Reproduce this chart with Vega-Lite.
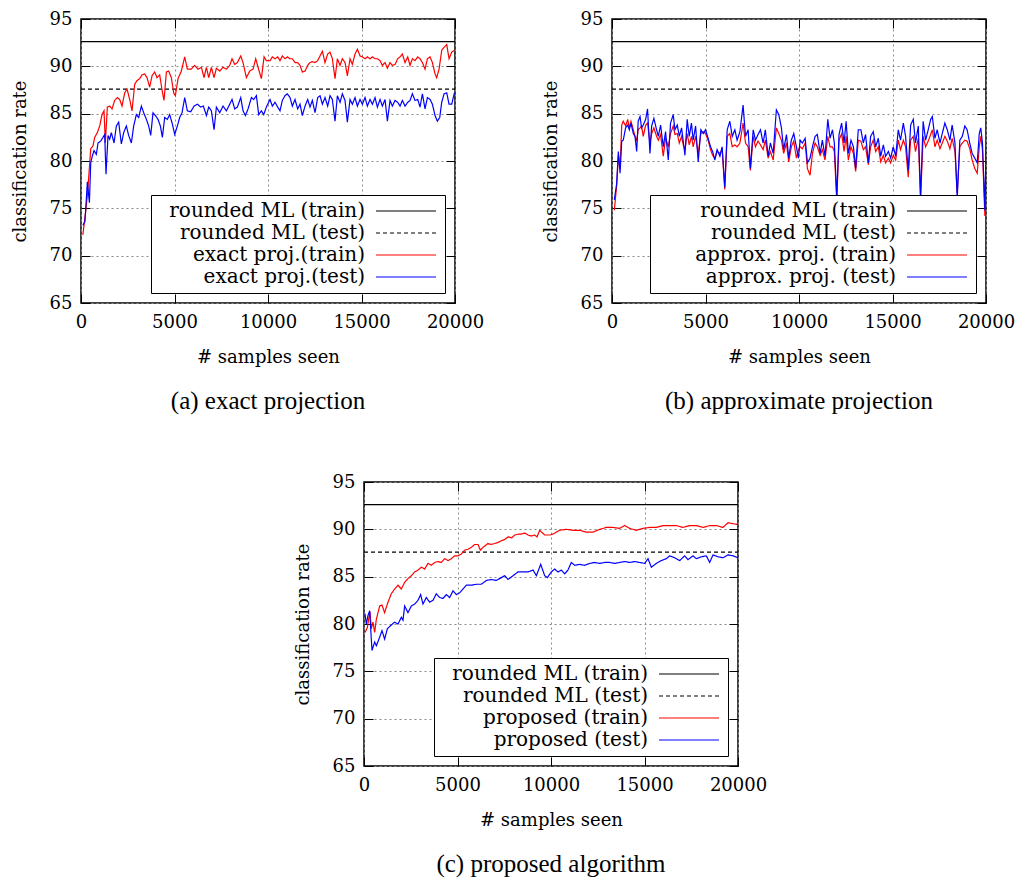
{
  "$schema": "https://vega.github.io/schema/vega-lite/v6.json",
  "background": "white",
  "padding": {"left": 10, "top": 9, "right": 5, "bottom": 5},
  "config": {
    "font": "DejaVu Serif",
    "view": {"stroke": "black", "strokeWidth": 1.5},
    "axis": {"domain": false, "tickColor": "black", "tickSize": -9, "tickWidth": 1, "labelFont": "DejaVu Serif", "labelFontSize": 18, "labelColor": "black", "titleFont": "DejaVu Serif", "titleFontSize": 18, "titleFontWeight": "normal", "titleColor": "black", "gridColor": "#8a8a8a", "gridDash": [2, 3], "gridWidth": 1, "labelFlush": false},
    "legend": {"orient": "bottom-right", "offset": 10, "title": null, "symbolType": "M -6 0 L 6 0", "symbolSize": 100, "symbolStrokeWidth": 1.2, "labelFont": "DejaVu Serif", "labelFontSize": 20, "labelColor": "black", "labelAlign": "right", "labelLimit": 400, "rowPadding": 2, "padding": 6, "strokeColor": "black", "fillColor": "white", "cornerRadius": 0},
    "title": {"font": "Liberation Serif", "fontSize": 25, "fontWeight": "normal", "color": "black"},
    "line": {"strokeWidth": 1.2}
  },
  "datasets": {
    "ml_tr": [{"x": 0, "y": 92.6}, {"x": 20000, "y": 92.6}],
    "ml_te": [{"x": 0, "y": 87.6}, {"x": 20000, "y": 87.6}],
    "a_tr": [{"x":100,"y":72.2},{"x":270,"y":75},{"x":360,"y":76.8},{"x":520,"y":81.3},{"x":642,"y":81.6},{"x":732,"y":82.5},{"x":874,"y":83},{"x":999,"y":83.7},{"x":1124,"y":84.9},{"x":1231,"y":85.3},{"x":1302,"y":81.9},{"x":1409,"y":85.7},{"x":1534,"y":85.8},{"x":1659,"y":85.5},{"x":1801,"y":86.4},{"x":1944,"y":86.7},{"x":2069,"y":86.5},{"x":2194,"y":85.8},{"x":2336,"y":87.2},{"x":2461,"y":87.6},{"x":2604,"y":86.5},{"x":2729,"y":85.3},{"x":2871,"y":88.1},{"x":2996,"y":88.5},{"x":3139,"y":88.7},{"x":3263,"y":89.1},{"x":3406,"y":89.2},{"x":3531,"y":88.8},{"x":3674,"y":87.8},{"x":3798,"y":89},{"x":3941,"y":89.4},{"x":4066,"y":88.8},{"x":4208,"y":89.1},{"x":4333,"y":87.5},{"x":4440,"y":86.4},{"x":4565,"y":89.4},{"x":4690,"y":89.5},{"x":4832,"y":88.8},{"x":4957,"y":87.2},{"x":5047,"y":86.9},{"x":5189,"y":88.7},{"x":5367,"y":89.5},{"x":5546,"y":91},{"x":5688,"y":89.7},{"x":5902,"y":89.7},{"x":6080,"y":90.1},{"x":6259,"y":89.7},{"x":6437,"y":89.9},{"x":6580,"y":88.8},{"x":6705,"y":89.9},{"x":6830,"y":88.8},{"x":6972,"y":89.9},{"x":7115,"y":88.8},{"x":7240,"y":89.8},{"x":7418,"y":89.5},{"x":7596,"y":89.9},{"x":7775,"y":89.7},{"x":7953,"y":90.1},{"x":8078,"y":90.8},{"x":8220,"y":90.2},{"x":8363,"y":90.4},{"x":8541,"y":91.1},{"x":8666,"y":90.4},{"x":8844,"y":88.8},{"x":9022,"y":89.5},{"x":9201,"y":89.7},{"x":9343,"y":90.8},{"x":9468,"y":89.9},{"x":9646,"y":88.7},{"x":9789,"y":91},{"x":9914,"y":90.6},{"x":10107,"y":90.6},{"x":10232,"y":91},{"x":10375,"y":90.8},{"x":10518,"y":91},{"x":10642,"y":90.6},{"x":10767,"y":91.1},{"x":10910,"y":90.8},{"x":11035,"y":91},{"x":11177,"y":90.8},{"x":11302,"y":90.8},{"x":11445,"y":90.4},{"x":11587,"y":90.4},{"x":11712,"y":90.1},{"x":11837,"y":89.4},{"x":11980,"y":89.5},{"x":12122,"y":90.1},{"x":12247,"y":90.4},{"x":12372,"y":90.5},{"x":12515,"y":90.4},{"x":12657,"y":90.6},{"x":12782,"y":91.1},{"x":12907,"y":91.6},{"x":13049,"y":90.4},{"x":13192,"y":91.3},{"x":13317,"y":91.5},{"x":13442,"y":90.8},{"x":13584,"y":88.7},{"x":13709,"y":90.8},{"x":13852,"y":90.1},{"x":13976,"y":90.8},{"x":14119,"y":90.4},{"x":14244,"y":89},{"x":14387,"y":90.8},{"x":14511,"y":90.2},{"x":14654,"y":91.3},{"x":14779,"y":91.8},{"x":14922,"y":91.1},{"x":15046,"y":91},{"x":15189,"y":90.8},{"x":15314,"y":91},{"x":15456,"y":90.8},{"x":15581,"y":91},{"x":15724,"y":90.8},{"x":15849,"y":90.8},{"x":15992,"y":90.6},{"x":16116,"y":90.1},{"x":16259,"y":90.4},{"x":16384,"y":89.8},{"x":16527,"y":90.4},{"x":16651,"y":90.1},{"x":16794,"y":90.2},{"x":16936,"y":90.8},{"x":17061,"y":91},{"x":17186,"y":91.3},{"x":17329,"y":90.4},{"x":17471,"y":91},{"x":17596,"y":90.1},{"x":17721,"y":90.8},{"x":17863,"y":90.6},{"x":18006,"y":91},{"x":18131,"y":90.8},{"x":18256,"y":90.4},{"x":18398,"y":89.7},{"x":18523,"y":90.8},{"x":18666,"y":91},{"x":18791,"y":90.4},{"x":18933,"y":89.2},{"x":19022,"y":88.8},{"x":19147,"y":89.7},{"x":19290,"y":91.7},{"x":19415,"y":92},{"x":19558,"y":92.3},{"x":19682,"y":90.8},{"x":19825,"y":91.5},{"x":19968,"y":91.7}],
    "a_te": [{"x":100,"y":73.2},{"x":210,"y":73.6},{"x":340,"y":77.8},{"x":450,"y":75.6},{"x":520,"y":79.8},{"x":589,"y":80.4},{"x":696,"y":81.1},{"x":821,"y":80.7},{"x":910,"y":81.9},{"x":1052,"y":82.1},{"x":1177,"y":82.5},{"x":1266,"y":82.8},{"x":1338,"y":78.6},{"x":1445,"y":82.7},{"x":1534,"y":82.3},{"x":1623,"y":83},{"x":1766,"y":81.9},{"x":1890,"y":83.7},{"x":2015,"y":84.1},{"x":2158,"y":81.8},{"x":2283,"y":83},{"x":2425,"y":83.7},{"x":2550,"y":82.7},{"x":2693,"y":81.9},{"x":2818,"y":83.7},{"x":2960,"y":84.9},{"x":3085,"y":84.6},{"x":3228,"y":85.8},{"x":3353,"y":85.1},{"x":3496,"y":84.4},{"x":3620,"y":83.7},{"x":3727,"y":82.7},{"x":3852,"y":85.1},{"x":3977,"y":84.8},{"x":4119,"y":84.4},{"x":4244,"y":83.7},{"x":4351,"y":82.5},{"x":4476,"y":84.6},{"x":4618,"y":84.4},{"x":4743,"y":84.9},{"x":4886,"y":83.9},{"x":5011,"y":82.8},{"x":5153,"y":83.7},{"x":5278,"y":84.6},{"x":5403,"y":85.1},{"x":5546,"y":86.7},{"x":5688,"y":85.3},{"x":5866,"y":85.2},{"x":6045,"y":85.8},{"x":6223,"y":86},{"x":6401,"y":85.7},{"x":6544,"y":85.8},{"x":6705,"y":84.8},{"x":6830,"y":85.7},{"x":6972,"y":85.3},{"x":7115,"y":83.3},{"x":7240,"y":85.7},{"x":7418,"y":85.1},{"x":7596,"y":85.8},{"x":7775,"y":85.3},{"x":7953,"y":86},{"x":8078,"y":86.5},{"x":8220,"y":85.5},{"x":8363,"y":85.7},{"x":8541,"y":86.7},{"x":8666,"y":85.3},{"x":8790,"y":84.8},{"x":8933,"y":85.5},{"x":9112,"y":86.7},{"x":9236,"y":86.5},{"x":9379,"y":86.9},{"x":9504,"y":84.9},{"x":9646,"y":85.3},{"x":9771,"y":84.9},{"x":9914,"y":85.7},{"x":10107,"y":86.5},{"x":10232,"y":85.8},{"x":10375,"y":86.2},{"x":10518,"y":85.7},{"x":10642,"y":85.3},{"x":10767,"y":86.4},{"x":10910,"y":86.9},{"x":11035,"y":87.1},{"x":11177,"y":86.7},{"x":11302,"y":85.8},{"x":11445,"y":86.5},{"x":11587,"y":85.5},{"x":11712,"y":86},{"x":11837,"y":84.8},{"x":11980,"y":85.8},{"x":12122,"y":86.5},{"x":12247,"y":85.7},{"x":12372,"y":86.4},{"x":12515,"y":85.1},{"x":12657,"y":86.7},{"x":12782,"y":86.9},{"x":12907,"y":86},{"x":13049,"y":86.7},{"x":13192,"y":85.8},{"x":13317,"y":86.9},{"x":13442,"y":86.5},{"x":13584,"y":84.2},{"x":13709,"y":86.9},{"x":13852,"y":86.2},{"x":13976,"y":87.1},{"x":14119,"y":86.4},{"x":14244,"y":84.1},{"x":14387,"y":86.5},{"x":14511,"y":86},{"x":14654,"y":86.7},{"x":14779,"y":85.8},{"x":14922,"y":86.5},{"x":15046,"y":86},{"x":15189,"y":86.7},{"x":15314,"y":85.8},{"x":15456,"y":86.5},{"x":15581,"y":86},{"x":15724,"y":86.7},{"x":15849,"y":85.7},{"x":15992,"y":86.5},{"x":16116,"y":85.8},{"x":16259,"y":86.5},{"x":16384,"y":84.2},{"x":16527,"y":86.4},{"x":16651,"y":85.8},{"x":16794,"y":86.4},{"x":16936,"y":86.2},{"x":17061,"y":85.8},{"x":17186,"y":86.4},{"x":17329,"y":85.8},{"x":17471,"y":86.2},{"x":17596,"y":86.4},{"x":17721,"y":87.1},{"x":17863,"y":86.4},{"x":18006,"y":86.5},{"x":18131,"y":85.7},{"x":18256,"y":87.1},{"x":18398,"y":85.5},{"x":18523,"y":86.7},{"x":18666,"y":86.5},{"x":18791,"y":86},{"x":18933,"y":84.8},{"x":19058,"y":84.2},{"x":19183,"y":84.6},{"x":19290,"y":86.2},{"x":19415,"y":87.1},{"x":19558,"y":87.2},{"x":19682,"y":86},{"x":19825,"y":86},{"x":19968,"y":87.2}],
    "b_tr": [{"x":125,"y":74.8},{"x":250,"y":77.4},{"x":340,"y":80.6},{"x":430,"y":79.2},{"x":520,"y":83.8},{"x":600,"y":84.2},{"x":730,"y":83.7},{"x":840,"y":84.4},{"x":925,"y":83.5},{"x":1015,"y":84.2},{"x":1140,"y":83.3},{"x":1230,"y":82.6},{"x":1320,"y":82.1},{"x":1400,"y":83.3},{"x":1500,"y":83.5},{"x":1580,"y":83.7},{"x":1670,"y":82.6},{"x":1800,"y":83.8},{"x":1900,"y":84},{"x":2030,"y":81.9},{"x":2120,"y":82.9},{"x":2240,"y":83.5},{"x":2385,"y":82.6},{"x":2475,"y":82.2},{"x":2600,"y":82.8},{"x":2740,"y":80.5},{"x":2865,"y":82.4},{"x":3010,"y":81.5},{"x":3130,"y":82.9},{"x":3275,"y":83.7},{"x":3365,"y":82.8},{"x":3490,"y":82.9},{"x":3600,"y":81.9},{"x":3720,"y":82.6},{"x":3810,"y":81.7},{"x":3900,"y":81.2},{"x":4020,"y":82.9},{"x":4130,"y":81.7},{"x":4250,"y":82.6},{"x":4340,"y":81.5},{"x":4470,"y":82.6},{"x":4610,"y":80.8},{"x":4750,"y":82.9},{"x":4880,"y":83.1},{"x":5000,"y":82.9},{"x":5140,"y":82.2},{"x":5270,"y":81.2},{"x":5380,"y":80.6},{"x":5500,"y":80.3},{"x":5620,"y":81},{"x":5770,"y":80.8},{"x":5890,"y":81.2},{"x":6030,"y":77},{"x":6160,"y":82.6},{"x":6300,"y":82.9},{"x":6430,"y":81.5},{"x":6570,"y":81.7},{"x":6690,"y":81.5},{"x":6840,"y":81.9},{"x":7010,"y":84},{"x":7140,"y":81.9},{"x":7280,"y":81.5},{"x":7400,"y":79},{"x":7550,"y":82.6},{"x":7670,"y":81.5},{"x":7810,"y":82.1},{"x":7940,"y":81.7},{"x":8080,"y":81.2},{"x":8200,"y":82.2},{"x":8350,"y":80.3},{"x":8470,"y":81},{"x":8620,"y":80.1},{"x":8790,"y":83.5},{"x":8920,"y":82.9},{"x":9060,"y":82.2},{"x":9180,"y":80.8},{"x":9330,"y":81.9},{"x":9450,"y":79.9},{"x":9590,"y":81.5},{"x":9720,"y":82.1},{"x":9860,"y":80.3},{"x":9970,"y":81.2},{"x":10060,"y":81.5},{"x":10180,"y":81.3},{"x":10330,"y":81.9},{"x":10450,"y":79.2},{"x":10590,"y":78.5},{"x":10720,"y":80.8},{"x":10860,"y":81.9},{"x":10980,"y":81.5},{"x":11130,"y":80.6},{"x":11250,"y":81.2},{"x":11390,"y":80.1},{"x":11540,"y":82.6},{"x":11660,"y":81.5},{"x":11790,"y":81.5},{"x":11890,"y":81},{"x":12020,"y":75.7},{"x":12140,"y":82.2},{"x":12280,"y":82.9},{"x":12410,"y":81},{"x":12520,"y":82.6},{"x":12640,"y":80.1},{"x":12780,"y":81.5},{"x":12910,"y":80.8},{"x":13030,"y":78.9},{"x":13170,"y":82.2},{"x":13310,"y":82.1},{"x":13440,"y":81.2},{"x":13560,"y":81.5},{"x":13710,"y":79.6},{"x":13830,"y":81.5},{"x":13970,"y":82.2},{"x":14100,"y":81},{"x":14240,"y":81.5},{"x":14370,"y":79.9},{"x":14510,"y":80.6},{"x":14630,"y":79.8},{"x":14780,"y":80.3},{"x":14900,"y":79.8},{"x":15040,"y":80.6},{"x":15170,"y":80.1},{"x":15310,"y":82.2},{"x":15430,"y":81.2},{"x":15580,"y":82.2},{"x":15700,"y":81.5},{"x":15840,"y":78.3},{"x":15970,"y":82.2},{"x":16110,"y":82.6},{"x":16230,"y":81},{"x":16380,"y":82.4},{"x":16500,"y":75.9},{"x":16640,"y":82.6},{"x":16770,"y":81.5},{"x":16910,"y":82.1},{"x":17040,"y":82.8},{"x":17130,"y":83.3},{"x":17270,"y":81.5},{"x":17390,"y":82.2},{"x":17540,"y":81.3},{"x":17660,"y":81.9},{"x":17800,"y":82.6},{"x":17930,"y":82.1},{"x":18070,"y":81.3},{"x":18190,"y":82.4},{"x":18340,"y":81},{"x":18460,"y":76.6},{"x":18600,"y":81.5},{"x":18730,"y":81.9},{"x":18870,"y":82.2},{"x":18990,"y":82.1},{"x":19130,"y":81.3},{"x":19260,"y":80.1},{"x":19400,"y":79.2},{"x":19530,"y":78.7},{"x":19640,"y":81.5},{"x":19720,"y":82.6},{"x":19810,"y":81.2},{"x":19940,"y":74.2},{"x":20000,"y":80.6}],
    "b_te": [{"x":125,"y":75.9},{"x":250,"y":77.6},{"x":340,"y":81},{"x":430,"y":78.7},{"x":520,"y":82.1},{"x":600,"y":82.2},{"x":730,"y":83.5},{"x":840,"y":83.8},{"x":925,"y":83.3},{"x":1015,"y":84},{"x":1140,"y":82.9},{"x":1230,"y":82.6},{"x":1320,"y":81},{"x":1400,"y":84.2},{"x":1500,"y":84.7},{"x":1580,"y":83.5},{"x":1670,"y":83.8},{"x":1800,"y":84.4},{"x":1900,"y":85.5},{"x":2030,"y":80.8},{"x":2120,"y":83.7},{"x":2240,"y":84.5},{"x":2385,"y":83.3},{"x":2475,"y":82.6},{"x":2600,"y":83.8},{"x":2740,"y":81.5},{"x":2865,"y":83.1},{"x":3010,"y":80.1},{"x":3130,"y":84},{"x":3275,"y":84.9},{"x":3365,"y":83.3},{"x":3490,"y":83.8},{"x":3600,"y":82.6},{"x":3720,"y":83.5},{"x":3810,"y":82.1},{"x":3900,"y":80.6},{"x":4020,"y":84.4},{"x":4130,"y":82.6},{"x":4250,"y":84},{"x":4340,"y":82.2},{"x":4470,"y":83.7},{"x":4610,"y":79.9},{"x":4750,"y":83.3},{"x":4880,"y":82.9},{"x":5000,"y":83.3},{"x":5140,"y":82.4},{"x":5270,"y":81.5},{"x":5380,"y":81},{"x":5500,"y":80.1},{"x":5620,"y":81.2},{"x":5770,"y":80.5},{"x":5890,"y":81.5},{"x":6030,"y":77.2},{"x":6160,"y":83.3},{"x":6300,"y":84.2},{"x":6430,"y":82.6},{"x":6570,"y":83.3},{"x":6690,"y":82.2},{"x":6840,"y":83.1},{"x":7010,"y":85.9},{"x":7140,"y":82.6},{"x":7280,"y":83.3},{"x":7400,"y":79.2},{"x":7550,"y":83.3},{"x":7670,"y":82.2},{"x":7810,"y":82.8},{"x":7940,"y":83.3},{"x":8080,"y":81.9},{"x":8200,"y":83.3},{"x":8350,"y":80.5},{"x":8470,"y":81.9},{"x":8620,"y":80.8},{"x":8790,"y":85.4},{"x":8920,"y":84.9},{"x":9060,"y":83.5},{"x":9180,"y":81.2},{"x":9330,"y":82.8},{"x":9450,"y":80.3},{"x":9590,"y":82.2},{"x":9720,"y":82.9},{"x":9860,"y":81.5},{"x":9970,"y":80.3},{"x":10060,"y":82.2},{"x":10180,"y":81.9},{"x":10330,"y":82.4},{"x":10450,"y":79.8},{"x":10590,"y":80.3},{"x":10720,"y":81.5},{"x":10860,"y":82.6},{"x":10980,"y":82.8},{"x":11130,"y":80.8},{"x":11250,"y":82.2},{"x":11390,"y":80.5},{"x":11540,"y":84.4},{"x":11660,"y":82.4},{"x":11790,"y":83.3},{"x":11890,"y":81.9},{"x":12020,"y":76.2},{"x":12140,"y":82.8},{"x":12280,"y":84},{"x":12410,"y":81.9},{"x":12520,"y":84.2},{"x":12640,"y":80.8},{"x":12780,"y":82.2},{"x":12910,"y":81.5},{"x":13030,"y":79.2},{"x":13170,"y":83.3},{"x":13310,"y":83.3},{"x":13440,"y":81.9},{"x":13560,"y":82.8},{"x":13710,"y":79.8},{"x":13830,"y":82.6},{"x":13970,"y":83.1},{"x":14100,"y":81.5},{"x":14240,"y":82.4},{"x":14370,"y":80.5},{"x":14510,"y":81.7},{"x":14630,"y":80.5},{"x":14780,"y":81},{"x":14900,"y":80.3},{"x":15040,"y":81.5},{"x":15170,"y":80.5},{"x":15310,"y":83.3},{"x":15430,"y":82.2},{"x":15580,"y":84},{"x":15700,"y":82.6},{"x":15840,"y":79},{"x":15970,"y":83.8},{"x":16110,"y":84.4},{"x":16230,"y":81.9},{"x":16380,"y":83.7},{"x":16500,"y":76.2},{"x":16640,"y":84.2},{"x":16770,"y":82.2},{"x":16910,"y":83.3},{"x":17040,"y":84.4},{"x":17130,"y":84.7},{"x":17270,"y":82.4},{"x":17390,"y":83.3},{"x":17540,"y":81.9},{"x":17660,"y":82.9},{"x":17800,"y":84},{"x":17930,"y":83.3},{"x":18070,"y":82.2},{"x":18190,"y":83.8},{"x":18340,"y":81.9},{"x":18460,"y":76},{"x":18600,"y":82.2},{"x":18730,"y":82.6},{"x":18870,"y":83.7},{"x":18990,"y":83.3},{"x":19130,"y":81.9},{"x":19260,"y":80.8},{"x":19400,"y":80.3},{"x":19530,"y":79.8},{"x":19640,"y":82.9},{"x":19720,"y":83.5},{"x":19810,"y":81.9},{"x":19940,"y":74.8},{"x":20000,"y":81.4}],
    "c_tr": [{"x":50,"y":79.1},{"x":177,"y":79.6},{"x":248,"y":80.5},{"x":320,"y":81.3},{"x":391,"y":79.5},{"x":480,"y":80.2},{"x":570,"y":79.1},{"x":660,"y":80.5},{"x":750,"y":81.2},{"x":837,"y":81.9},{"x":962,"y":82},{"x":1100,"y":81.2},{"x":1282,"y":82.3},{"x":1461,"y":83.2},{"x":1640,"y":83.7},{"x":1817,"y":84.1},{"x":1996,"y":83.7},{"x":2174,"y":84.4},{"x":2352,"y":84.8},{"x":2530,"y":85.1},{"x":2709,"y":85.5},{"x":2887,"y":85.7},{"x":3065,"y":86},{"x":3244,"y":85.8},{"x":3422,"y":86.4},{"x":3600,"y":86.2},{"x":3779,"y":86.5},{"x":3957,"y":86.6},{"x":4135,"y":86.5},{"x":4314,"y":86.9},{"x":4492,"y":86.7},{"x":4670,"y":86.9},{"x":4848,"y":87.2},{"x":5027,"y":87.2},{"x":5205,"y":87.4},{"x":5383,"y":87.8},{"x":5562,"y":87.9},{"x":5740,"y":88.1},{"x":5918,"y":88.4},{"x":6097,"y":88.4},{"x":6221,"y":87.8},{"x":6364,"y":88.1},{"x":6631,"y":88.5},{"x":6800,"y":88.4},{"x":6988,"y":88.5},{"x":7150,"y":88.6},{"x":7345,"y":88.8},{"x":7500,"y":88.9},{"x":7701,"y":89.2},{"x":7900,"y":89.1},{"x":8058,"y":89.4},{"x":8250,"y":89.5},{"x":8414,"y":89.5},{"x":8600,"y":89.6},{"x":8771,"y":89.4},{"x":8950,"y":89.3},{"x":9128,"y":89.4},{"x":9250,"y":89.2},{"x":9395,"y":89.9},{"x":9663,"y":89.4},{"x":9930,"y":89.4},{"x":10106,"y":89.5},{"x":10462,"y":89.9},{"x":10819,"y":90},{"x":11175,"y":89.9},{"x":11532,"y":89.9},{"x":11889,"y":89.7},{"x":12245,"y":89.7},{"x":12602,"y":90},{"x":12959,"y":90.2},{"x":13315,"y":90.2},{"x":13672,"y":90.1},{"x":13939,"y":90.4},{"x":14207,"y":90.1},{"x":14563,"y":89.9},{"x":14920,"y":90.1},{"x":15276,"y":90.2},{"x":15633,"y":90.2},{"x":15990,"y":90.4},{"x":16346,"y":90.4},{"x":16703,"y":90.4},{"x":17059,"y":90.2},{"x":17416,"y":90.4},{"x":17773,"y":90.4},{"x":18129,"y":90.2},{"x":18486,"y":90.4},{"x":18843,"y":90.4},{"x":19199,"y":90.2},{"x":19466,"y":90.7},{"x":19734,"y":90.6},{"x":20000,"y":90.5}],
    "c_te": [{"x":50,"y":81.1},{"x":123,"y":80},{"x":213,"y":80.9},{"x":302,"y":81.4},{"x":427,"y":77.2},{"x":570,"y":78.1},{"x":660,"y":77.7},{"x":837,"y":78.6},{"x":962,"y":79.3},{"x":1104,"y":78.4},{"x":1247,"y":79.5},{"x":1461,"y":79.9},{"x":1640,"y":80.2},{"x":1817,"y":80},{"x":1996,"y":80.7},{"x":2085,"y":80.4},{"x":2174,"y":81.9},{"x":2352,"y":81.2},{"x":2530,"y":81.9},{"x":2709,"y":82.1},{"x":2887,"y":82.5},{"x":3030,"y":83.1},{"x":3155,"y":82.1},{"x":3333,"y":82.8},{"x":3511,"y":82.3},{"x":3690,"y":82.5},{"x":3868,"y":83.2},{"x":4046,"y":82.8},{"x":4224,"y":82.7},{"x":4403,"y":83.1},{"x":4581,"y":82.8},{"x":4759,"y":83.5},{"x":4937,"y":83.1},{"x":5116,"y":83.3},{"x":5294,"y":83.7},{"x":5472,"y":84.1},{"x":5740,"y":84.1},{"x":6007,"y":84.2},{"x":6275,"y":84.2},{"x":6542,"y":84.6},{"x":6810,"y":84.7},{"x":7077,"y":84.6},{"x":7345,"y":84.9},{"x":7523,"y":85.1},{"x":7701,"y":84.7},{"x":7969,"y":85.1},{"x":8237,"y":85.5},{"x":8504,"y":85.5},{"x":8771,"y":85.5},{"x":9039,"y":85.7},{"x":9217,"y":85.1},{"x":9449,"y":86.3},{"x":9663,"y":85.1},{"x":9806,"y":84.9},{"x":10016,"y":85.5},{"x":10195,"y":85.8},{"x":10373,"y":85.5},{"x":10551,"y":85.7},{"x":10730,"y":85.3},{"x":10908,"y":85.7},{"x":11086,"y":86.5},{"x":11265,"y":86.2},{"x":11532,"y":86.3},{"x":11800,"y":86.2},{"x":12067,"y":86.4},{"x":12334,"y":86.5},{"x":12602,"y":86.4},{"x":12869,"y":86.5},{"x":13137,"y":86.5},{"x":13404,"y":86.4},{"x":13672,"y":86.5},{"x":13939,"y":86.6},{"x":14207,"y":86.5},{"x":14474,"y":86.6},{"x":14742,"y":86.5},{"x":15009,"y":86.4},{"x":15187,"y":86.9},{"x":15366,"y":86},{"x":15633,"y":86.4},{"x":15901,"y":86.7},{"x":16168,"y":86.9},{"x":16346,"y":87.2},{"x":16614,"y":87},{"x":16881,"y":86.7},{"x":17149,"y":87.2},{"x":17327,"y":86.8},{"x":17594,"y":87.2},{"x":17773,"y":86.9},{"x":18040,"y":87.1},{"x":18307,"y":87.2},{"x":18486,"y":86.5},{"x":18664,"y":87.3},{"x":18932,"y":87.1},{"x":19199,"y":87},{"x":19466,"y":87.3},{"x":19734,"y":87.2},{"x":20000,"y":87}]
  },
  "spacing": 57,
  "resolve": {"scale": {"color": "independent", "strokeDash": "independent", "x": "independent", "y": "independent"}, "legend": {"color": "independent", "strokeDash": "independent"}},
  "vconcat": [
    {
      "spacing": 56,
      "resolve": {"scale": {"color": "independent", "strokeDash": "independent", "x": "independent", "y": "independent"}, "legend": {"color": "independent", "strokeDash": "independent"}},
      "hconcat": [
        {
          "width": 374, "height": 284,
          "title": {"text": "(a) exact projection", "orient": "bottom", "anchor": "middle", "frame": "group", "offset": 23},
          "resolve": {"axis": {"x": "independent", "y": "independent"}},
          "layer": [
            {
              "encoding": {
                "x": {"field": "x", "type": "quantitative", "scale": {"domain": [0, 20000], "nice": false}, "axis": {"orient": "bottom", "values": [0, 5000, 10000, 15000, 20000], "format": "d", "grid": true, "title": "# samples seen", "labelPadding": 19, "titlePadding": 17}},
                "y": {"field": "y", "type": "quantitative", "scale": {"domain": [65, 95], "nice": false, "zero": false}, "axis": {"orient": "left", "values": [65, 70, 75, 80, 85, 90, 95], "grid": true, "title": "classification rate", "labelPadding": 18, "titlePadding": 20}}
              },
              "layer": [
                {"data": {"name": "ml_tr"}, "mark": {"type": "line", "clip": true},
                 "encoding": {
                   "color": {"datum": "rounded ML (train)", "type": "nominal", "scale": {"domain": ["rounded ML (train)", "rounded ML (test)", "exact proj.(train)", "exact proj.(test)"], "range": ["black", "black", "#ff0000", "#0000ff"]}, "legend": {"labelAlign": "right", "labelOffset": -51, "symbolOffset": 239}},
                   "strokeDash": {"datum": "rounded ML (train)", "type": "nominal", "scale": {"domain": ["rounded ML (train)", "rounded ML (test)", "exact proj.(train)", "exact proj.(test)"], "range": [[1, 0], [4, 3], [1, 0], [1, 0]]}, "legend": {"labelAlign": "right", "labelOffset": -51, "symbolOffset": 239}}
                 }},
                {"data": {"name": "ml_te"}, "mark": {"type": "line", "clip": true},
                 "encoding": {"color": {"datum": "rounded ML (test)", "type": "nominal"}, "strokeDash": {"datum": "rounded ML (test)", "type": "nominal"}}},
                {"data": {"name": "a_tr"}, "mark": {"type": "line", "clip": true},
                 "encoding": {"color": {"datum": "exact proj.(train)", "type": "nominal"}, "strokeDash": {"datum": "exact proj.(train)", "type": "nominal"}}},
                {"data": {"name": "a_te"}, "mark": {"type": "line", "clip": true},
                 "encoding": {"color": {"datum": "exact proj.(test)", "type": "nominal"}, "strokeDash": {"datum": "exact proj.(test)", "type": "nominal"}}}
              ]
            },
            {
              "data": {"name": "ml_tr"}, "mark": {"type": "point", "opacity": 0},
              "encoding": {
                "x": {"field": "x", "type": "quantitative", "axis": {"orient": "top", "values": [0, 5000, 10000, 15000, 20000], "labels": false, "grid": false, "title": null}},
                "y": {"field": "y", "type": "quantitative", "axis": {"orient": "right", "values": [65, 70, 75, 80, 85, 90, 95], "labels": false, "grid": false, "title": null}}
              }
            }
          ]
        },
        {
          "width": 374, "height": 284,
          "title": {"text": "(b) approximate projection", "orient": "bottom", "anchor": "middle", "frame": "group", "offset": 23},
          "resolve": {"axis": {"x": "independent", "y": "independent"}},
          "layer": [
            {
              "encoding": {
                "x": {"field": "x", "type": "quantitative", "scale": {"domain": [0, 20000], "nice": false}, "axis": {"orient": "bottom", "values": [0, 5000, 10000, 15000, 20000], "format": "d", "grid": true, "title": "# samples seen", "labelPadding": 19, "titlePadding": 17}},
                "y": {"field": "y", "type": "quantitative", "scale": {"domain": [65, 95], "nice": false, "zero": false}, "axis": {"orient": "left", "values": [65, 70, 75, 80, 85, 90, 95], "grid": true, "title": "classification rate", "labelPadding": 18, "titlePadding": 20}}
              },
              "layer": [
                {"data": {"name": "ml_tr"}, "mark": {"type": "line", "clip": true},
                 "encoding": {
                   "color": {"datum": "rounded ML (train)", "type": "nominal", "scale": {"domain": ["rounded ML (train)", "rounded ML (test)", "approx. proj. (train)", "approx. proj. (test)"], "range": ["black", "black", "#ff0000", "#0000ff"]}, "legend": {"labelAlign": "right", "labelOffset": -51, "symbolOffset": 271}},
                   "strokeDash": {"datum": "rounded ML (train)", "type": "nominal", "scale": {"domain": ["rounded ML (train)", "rounded ML (test)", "approx. proj. (train)", "approx. proj. (test)"], "range": [[1, 0], [4, 3], [1, 0], [1, 0]]}, "legend": {"labelAlign": "right", "labelOffset": -51, "symbolOffset": 271}}
                 }},
                {"data": {"name": "ml_te"}, "mark": {"type": "line", "clip": true},
                 "encoding": {"color": {"datum": "rounded ML (test)", "type": "nominal"}, "strokeDash": {"datum": "rounded ML (test)", "type": "nominal"}}},
                {"data": {"name": "b_tr"}, "mark": {"type": "line", "clip": true},
                 "encoding": {"color": {"datum": "approx. proj. (train)", "type": "nominal"}, "strokeDash": {"datum": "approx. proj. (train)", "type": "nominal"}}},
                {"data": {"name": "b_te"}, "mark": {"type": "line", "clip": true},
                 "encoding": {"color": {"datum": "approx. proj. (test)", "type": "nominal"}, "strokeDash": {"datum": "approx. proj. (test)", "type": "nominal"}}}
              ]
            },
            {
              "data": {"name": "ml_tr"}, "mark": {"type": "point", "opacity": 0},
              "encoding": {
                "x": {"field": "x", "type": "quantitative", "axis": {"orient": "top", "values": [0, 5000, 10000, 15000, 20000], "labels": false, "grid": false, "title": null}},
                "y": {"field": "y", "type": "quantitative", "axis": {"orient": "right", "values": [65, 70, 75, 80, 85, 90, 95], "labels": false, "grid": false, "title": null}}
              }
            }
          ]
        }
      ]
    },
    {
      "spacing": 20,
      "resolve": {"scale": {"color": "independent", "strokeDash": "independent", "x": "independent", "y": "independent"}, "legend": {"color": "independent", "strokeDash": "independent"}},
      "hconcat": [
        {"width": 192, "height": 20, "data": {"values": []}, "mark": {"type": "point", "opacity": 0}, "encoding": {}, "view": {"stroke": null}},
        {
          "width": 374, "height": 284,
          "title": {"text": "(c) proposed algorithm", "orient": "bottom", "anchor": "middle", "frame": "group", "offset": 23},
          "resolve": {"axis": {"x": "independent", "y": "independent"}},
          "layer": [
            {
              "encoding": {
                "x": {"field": "x", "type": "quantitative", "scale": {"domain": [0, 20000], "nice": false}, "axis": {"orient": "bottom", "values": [0, 5000, 10000, 15000, 20000], "format": "d", "grid": true, "title": "# samples seen", "labelPadding": 19, "titlePadding": 17}},
                "y": {"field": "y", "type": "quantitative", "scale": {"domain": [65, 95], "nice": false, "zero": false}, "axis": {"orient": "left", "values": [65, 70, 75, 80, 85, 90, 95], "grid": true, "title": "classification rate", "labelPadding": 18, "titlePadding": 20}}
              },
              "layer": [
                {"data": {"name": "ml_tr"}, "mark": {"type": "line", "clip": true},
                 "encoding": {
                   "color": {"datum": "rounded ML (train)", "type": "nominal", "scale": {"domain": ["rounded ML (train)", "rounded ML (test)", "proposed (train)", "proposed (test)"], "range": ["black", "black", "#ff0000", "#0000ff"]}, "legend": {"labelAlign": "right", "labelOffset": -51, "symbolOffset": 239}},
                   "strokeDash": {"datum": "rounded ML (train)", "type": "nominal", "scale": {"domain": ["rounded ML (train)", "rounded ML (test)", "proposed (train)", "proposed (test)"], "range": [[1, 0], [4, 3], [1, 0], [1, 0]]}, "legend": {"labelAlign": "right", "labelOffset": -51, "symbolOffset": 239}}
                 }},
                {"data": {"name": "ml_te"}, "mark": {"type": "line", "clip": true},
                 "encoding": {"color": {"datum": "rounded ML (test)", "type": "nominal"}, "strokeDash": {"datum": "rounded ML (test)", "type": "nominal"}}},
                {"data": {"name": "c_tr"}, "mark": {"type": "line", "clip": true},
                 "encoding": {"color": {"datum": "proposed (train)", "type": "nominal"}, "strokeDash": {"datum": "proposed (train)", "type": "nominal"}}},
                {"data": {"name": "c_te"}, "mark": {"type": "line", "clip": true},
                 "encoding": {"color": {"datum": "proposed (test)", "type": "nominal"}, "strokeDash": {"datum": "proposed (test)", "type": "nominal"}}}
              ]
            },
            {
              "data": {"name": "ml_tr"}, "mark": {"type": "point", "opacity": 0},
              "encoding": {
                "x": {"field": "x", "type": "quantitative", "axis": {"orient": "top", "values": [0, 5000, 10000, 15000, 20000], "labels": false, "grid": false, "title": null}},
                "y": {"field": "y", "type": "quantitative", "axis": {"orient": "right", "values": [65, 70, 75, 80, 85, 90, 95], "labels": false, "grid": false, "title": null}}
              }
            }
          ]
        }
      ]
    }
  ]
}
